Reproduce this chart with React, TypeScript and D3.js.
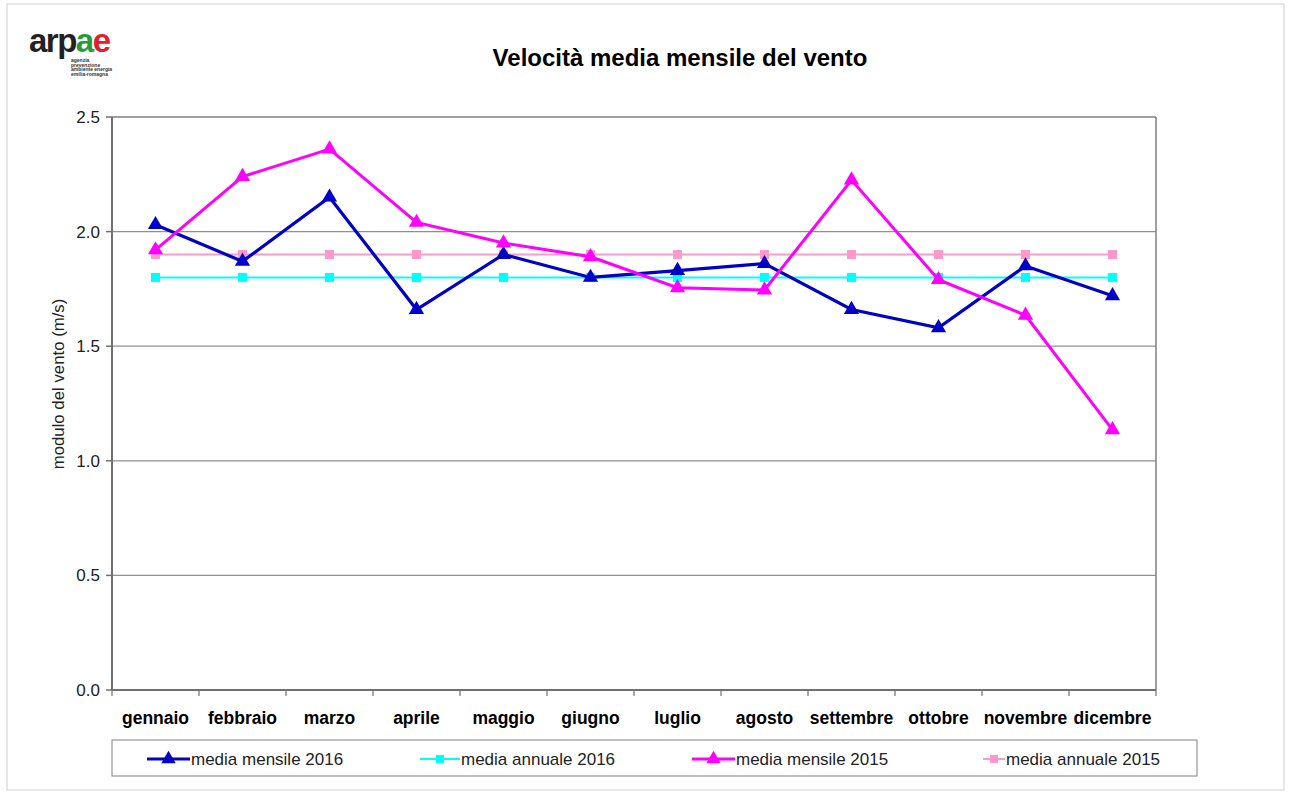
import React from "react";
import * as d3 from "d3";

const months = ["gennaio","febbraio","marzo","aprile","maggio","giugno","luglio","agosto","settembre","ottobre","novembre","dicembre"];
const mensile2016 = [2.03, 1.87, 2.15, 1.66, 1.90, 1.80, 1.83, 1.86, 1.66, 1.58, 1.85, 1.72];
const annuale2016 = [1.80, 1.80, 1.80, 1.80, 1.80, 1.80, 1.80, 1.80, 1.80, 1.80, 1.80, 1.80];
const mensile2015 = [1.92, 2.24, 2.36, 2.04, 1.95, 1.89, 1.755, 1.745, 2.225, 1.79, 1.635, 1.135];
const annuale2015 = [1.90, 1.90, 1.90, 1.90, 1.90, 1.90, 1.90, 1.90, 1.90, 1.90, 1.90, 1.90];
const yTicks = [0, 0.5, 1.0, 1.5, 2.0, 2.5];

const seriesList = [
  { name: "media mensile 2016", values: mensile2016, color: "#0000C8", width: 3.2, marker: "tri" },
  { name: "media annuale 2016", values: annuale2016, color: "#00FFFF", width: 2, marker: "sq" },
  { name: "media mensile 2015", values: mensile2015, color: "#FF00FF", width: 3, marker: "tri" },
  { name: "media annuale 2015", values: annuale2015, color: "#FF99CC", width: 2, marker: "sq" },
];

const FONT = "'Liberation Sans', Arial, sans-serif";

function Marker({ type, x, y, color, s = 1 }: any) {
  if (type === "tri") {
    const sym = d3.symbol(d3.symbolTriangle, 100 * s)();
    return <path d={sym as string} transform={`translate(${x},${y})`} fill={color} />;
  }
  const w = 9 * s;
  return <rect x={x - w / 2} y={y - w / 2} width={w} height={w} fill={color} />;
}

export default function App() {
  const left = 112, right = 1156, top = 117, bottom = 690;
  const x = d3.scaleBand().domain(months).range([left, right]);
  const y = d3.scaleLinear().domain([0, 2.5]).range([bottom, top]);
  const cx = (m: string) => (x(m) as number) + x.bandwidth() / 2;
  const line = d3.line<number>().x((_, i) => cx(months[i])).y(v => y(v));

  const legendItems = [
    { lx: 147, tx: 190 },
    { lx: 420, tx: 460 },
    { lx: 692, tx: 735 },
    { lx: 983, tx: 1005 },
  ];

  const drawOrder = [1, 3, 0, 2];

  return (
    <svg width={1291} height={792} style={{ position: "absolute", left: 0, top: 0, background: "#fff" }} fontFamily={FONT}>
      <rect x={7} y={4} width={1277} height={786} fill="#fff" stroke="#d0d0d0" strokeWidth={1} />
      {/* logo */}
      <text x={29} y={52} fontSize={33} fontWeight="bold" fontFamily={FONT} letterSpacing={-1.5}>
        <tspan fill="#222">arp</tspan><tspan fill="#2a9a3a">a</tspan><tspan fill="#e0202a">e</tspan>
      </text>
      {["agenzia", "prevenzione", "ambiente energia", "emilia-romagna"].map((t, i) => (
        <text key={t} x={71} y={62 + i * 4.5} fontSize={5} fill="#333" fontWeight="bold">{t}</text>
      ))}
      <text x={680} y={66} textAnchor="middle" fontSize={24} fontWeight="bold" fill="#000">Velocità media mensile del vento</text>

      {/* gridlines */}
      {yTicks.filter(t => t > 0 && t < 2.5).map(t => (
        <line key={t} x1={left} x2={right} y1={y(t)} y2={y(t)} stroke="#909090" strokeWidth={1.2} />
      ))}
      {/* plot border */}
      <line x1={left} x2={right} y1={top} y2={top} stroke="#808080" strokeWidth={1.5} />
      <line x1={right} x2={right} y1={top} y2={bottom} stroke="#808080" strokeWidth={1.5} />
      <line x1={left} x2={left} y1={top} y2={bottom} stroke="#707070" strokeWidth={2} />
      <line x1={left} x2={right} y1={bottom} y2={bottom} stroke="#707070" strokeWidth={2} />
      {yTicks.map(t => (
        <g key={t}>
          <line x1={left - 6} x2={left} y1={y(t)} y2={y(t)} stroke="#707070" strokeWidth={1.5} />
          <text x={left - 12} y={y(t) + 6} textAnchor="end" fontSize={17} fill="#222">{t.toFixed(1)}</text>
        </g>
      ))}
      {months.map((m, i) => (
        <line key={"xt" + i} x1={x(m) as number} x2={x(m) as number} y1={bottom} y2={bottom + 6} stroke="#707070" strokeWidth={1.2} />
      ))}
      <line x1={right} x2={right} y1={bottom} y2={bottom + 6} stroke="#707070" strokeWidth={1.2} />
      {months.map(m => (
        <text key={m} x={cx(m)} y={724} textAnchor="middle" fontSize={17.5} fontWeight="bold" fill="#000">{m}</text>
      ))}
      <text transform={`translate(64,${384})rotate(-90)`} textAnchor="middle" fontSize={16.8} fill="#222">modulo del vento (m/s)</text>

      {/* series */}
      {drawOrder.map(si => {
        const s = seriesList[si];
        return (
          <g key={s.name}>
            <path d={line(s.values) as string} fill="none" stroke={s.color} strokeWidth={s.width} strokeLinejoin="miter" />
            {s.values.map((v, i) => (
              <Marker key={i} type={s.marker} x={cx(months[i])} y={y(v)} color={s.color} />
            ))}
          </g>
        );
      })}

      {/* legend */}
      <rect x={112} y={740} width={1085} height={36} fill="#fff" stroke="#808080" strokeWidth={1} />
      {seriesList.map((s, i) => {
        const it = legendItems[i];
        const x1 = it.lx, x2 = it.tx;
        return (
          <g key={s.name}>
            <line x1={x1} x2={x2} y1={759} y2={759} stroke={s.color} strokeWidth={s.width} />
            <Marker type={s.marker} x={(x1 + x2) / 2} y={759} color={s.color} s={0.9} />
            <text x={x2 + 1} y={765} fontSize={17} fill="#222">{s.name}</text>
          </g>
        );
      })}
    </svg>
  );
}
